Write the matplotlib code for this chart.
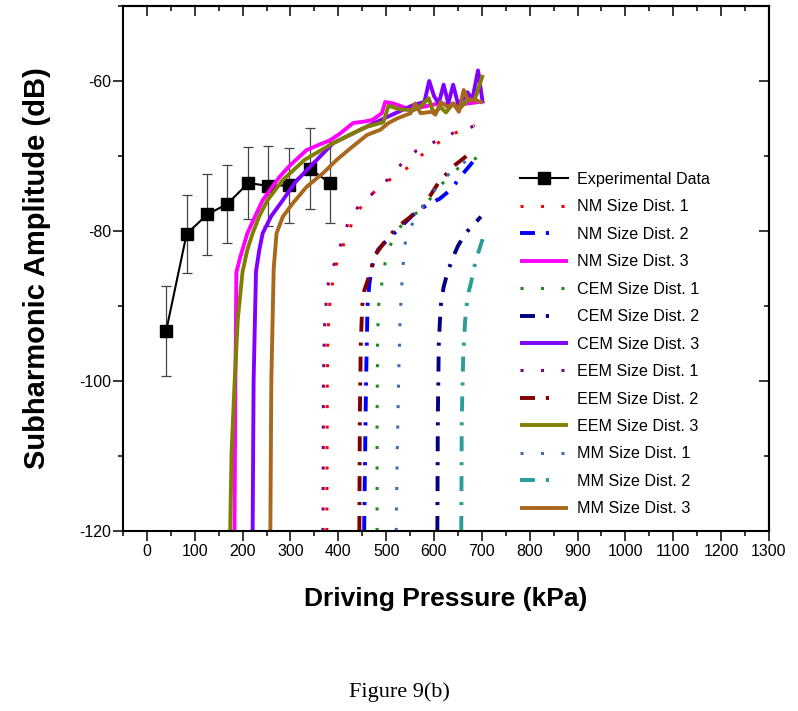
import matplotlib
matplotlib.use('Agg')
import matplotlib.pyplot as plt
from matplotlib.lines import Line2D
from matplotlib.ticker import MultipleLocator
from matplotlib import font_manager

# Fontes: Arial estreita no original
nomes = {f.name for f in font_manager.fontManager.ttflist}
NARROW = 'Liberation Sans Narrow' in nomes
plt.rcParams['font.family'] = ['Liberation Sans Narrow', 'Liberation Sans', 'DejaVu Sans'] if NARROW else ['Liberation Sans', 'DejaVu Sans']
plt.rcParams['axes.unicode_minus'] = False
FS_TICK = 13.8 if NARROW else 11.4
FS_LEG = 14 if NARROW else 11.6
FS_XLAB = 22 if NARROW else 19
LEG_SP = 0.45 if NARROW else 0.773

# ---- dados experimentais
exp_p = [40, 83, 126, 168, 212, 254, 298, 340, 383]
exp_db = [-93.4, -80.4, -77.8, -76.4, -73.6, -74.0, -73.9, -71.7, -73.6]
exp_err = [6.0, 5.2, 5.4, 5.2, 4.8, 5.3, 5.0, 5.4, 5.4]

# ---- simulações (kPa, dB)
nm1_p = [376, 377, 378, 381, 383, 390, 400, 418, 432, 460, 502, 544, 581, 623, 665, 685]
nm1_db = [-120, -100, -94, -91, -88.8, -86.1, -83.4, -80.8, -78.3, -75.6, -73.4, -71.6, -69.5, -67.6, -66.3, -65.9]

nm2_p = [454, 456, 458, 461, 465, 473, 483, 502, 530, 557, 586, 612, 635, 660, 681]
nm2_db = [-120, -110, -100, -90, -87, -84, -82.5, -81.2, -79.5, -77.8, -76.5, -75.7, -74.5, -72.4, -70.8]

nm3_p = [183, 185, 187, 195, 210, 225, 242, 260, 277, 300, 334, 360, 383, 404, 431, 456, 471, 491,
         498, 515, 550, 580, 610, 640, 670, 695]
nm3_db = [-120, -100, -85.5, -83.5, -80.3, -78.2, -75.9, -74.3, -72.8, -71.2, -69.2, -68.5, -67.9, -67.0,
          -65.6, -65.4, -65.2, -64.3, -62.8, -63.0, -63.8, -63.4, -63.0, -63.2, -63.0, -62.8]

cem1_p = [481, 481, 482, 484, 491, 498, 512, 536, 577, 612, 651, 693]
cem1_db = [-120, -105, -95, -90, -87, -84.2, -81.3, -78.8, -77.0, -74.0, -71.6, -70.1]

cem2_p = [607, 608, 610, 614, 620, 628, 639, 650, 666, 698]
cem2_db = [-120, -105, -95, -90, -87.5, -85.6, -83.6, -82.0, -80.3, -78.1]

cem3_p = [221, 223, 228, 235, 242, 260, 284, 310, 340, 389, 446, 502, 557, 580, 590, 600, 610, 620,
          630, 640, 650, 660, 670, 680, 692, 702]
cem3_db = [-120, -100, -85.4, -82.5, -80.3, -78.0, -75.9, -73.5, -71.5, -68.3, -66.5, -64.8, -63.2, -62.8,
           -60.0, -62.0, -63.0, -60.5, -63.0, -60.5, -63.0, -62.5, -61.5, -62.5, -58.6, -63.0]

eem1_p = [368, 369, 371, 375, 380, 393, 421, 447, 489, 523, 563, 605, 645, 690]
eem1_db = [-120, -100, -93, -89.2, -86.5, -84.1, -78.8, -76.2, -74.2, -71.6, -69.3, -68.0, -66.8, -65.9]

eem2_p = [444, 445, 447, 450, 454, 462, 477, 502, 523, 547, 582, 593, 610, 642, 668]
eem2_db = [-120, -105, -95, -90, -88, -86.5, -83.2, -81.0, -79.5, -78.3, -76.5, -75.2, -73.5, -71.3, -70.0]

eem3_p = [174, 177, 183, 190, 200, 210, 221, 235, 252, 284, 330, 389, 430, 460, 494, 505, 530, 557,
          570, 589, 599, 614, 625, 640, 652, 671, 685, 702]
eem3_db = [-120, -109.5, -100.6, -91.7, -85.4, -82.5, -80.3, -78.0, -75.9, -73.2, -70.5, -68.3, -67.0,
           -66.1, -65.5, -63.3, -63.8, -63.9, -63.5, -62.3, -64.3, -63.5, -64.2, -63.0, -63.8, -62.5,
           -62.5, -59.2]

mm1_p = [521, 523, 526, 529, 532, 535, 537, 542, 565, 593, 626, 670]
mm1_db = [-120, -110, -100, -92, -88, -85, -83.2, -80.5, -77.9, -75.2, -72.7, -70.5]

mm2_p = [657, 658, 661, 665, 670, 677, 684, 691, 702]
mm2_db = [-120, -105, -97, -92, -88.7, -87, -84.8, -83.2, -81]

mm3_p = [258, 260, 265, 271, 284, 305, 334, 368, 397, 425, 460, 488, 505, 523, 551, 561, 572, 597,
         603, 614, 629, 640, 652, 662, 671, 685, 702]
mm3_db = [-120, -100, -85, -80.3, -78.1, -76.3, -74.1, -72.3, -70.5, -69.0, -67.2, -66.5, -65.6, -65.0,
          -64.3, -63.0, -64.3, -64.1, -64.5, -62.8, -63.5, -63.0, -64.1, -61.2, -62.5, -62.5, -62.9]

x_ticks = [0, 100, 200, 300, 400, 500, 600, 700, 800, 900, 1000, 1100, 1200, 1300]
y_ticks = [-120, -100, -80, -60]

# rotulo, x, y, cor, tipo
series = [
    ('NM Size Dist. 1', nm1_p, nm1_db, '#FF0000', 'dot'),
    ('NM Size Dist. 2', nm2_p, nm2_db, '#0000FF', 'dashdot'),
    ('NM Size Dist. 3', nm3_p, nm3_db, '#FF00FF', 'solid'),
    ('CEM Size Dist. 1', cem1_p, cem1_db, '#1E8A1E', 'dot'),
    ('CEM Size Dist. 2', cem2_p, cem2_db, '#000080', 'dashdot'),
    ('CEM Size Dist. 3', cem3_p, cem3_db, '#8000FF', 'solid'),
    ('EEM Size Dist. 1', eem1_p, eem1_db, '#800080', 'dot'),
    ('EEM Size Dist. 2', eem2_p, eem2_db, '#800000', 'dashdot'),
    ('EEM Size Dist. 3', eem3_p, eem3_db, '#808000', 'solid'),
    ('MM Size Dist. 1', mm1_p, mm1_db, '#3F6DAE', 'dot'),
    ('MM Size Dist. 2', mm2_p, mm2_db, '#2A9D98', 'dashdot'),
    ('MM Size Dist. 3', mm3_p, mm3_db, '#A8681E', 'solid'),
]


def estilo(tipo, legenda=False):
    if tipo == 'dot':
        return dict(lw=2.2, dashes=(1, 5.7), dash_capstyle='butt')
    if tipo == 'dashdot':
        if legenda:
            return dict(lw=2.8, dashes=(3.85, 2.8, 0.8, 12), dash_capstyle='butt')
        return dict(lw=2.8, dashes=(3.85, 2.8, 0.8, 2.8), dash_capstyle='butt')
    return dict(lw=2.8, solid_capstyle='butt')


fig = plt.figure(figsize=(7.98, 7.11), dpi=100)
ax = fig.add_axes([0.1541, 0.2532, 0.8095, 0.7384])

# Experimental
ax.errorbar(exp_p, exp_db, yerr=exp_err, fmt='none', ecolor='#444444',
            elinewidth=0.9, capsize=3.6, capthick=0.9)
ax.plot(exp_p, exp_db, color='black', lw=1.5, marker='s', ms=8)

handles = [Line2D([], [], color='black', lw=1.5, marker='s', ms=8)]
labels = ['Experimental Data']
for rot, xs, ys, cor, tipo in series:
    ax.plot(xs, ys, color=cor, **estilo(tipo))
    handles.append(Line2D([], [], color=cor, **estilo(tipo, legenda=True)))
    labels.append(rot)

ax.set_xlim(-50, 1300)
ax.set_ylim(-120, -50)
ax.set_xticks(x_ticks)
ax.set_yticks(y_ticks)
ax.xaxis.set_minor_locator(MultipleLocator(50))
ax.yaxis.set_minor_locator(MultipleLocator(10))
ax.tick_params(which='major', direction='out', length=7.2, width=1.1, top=False, right=False,
               labelsize=FS_TICK)
ax.tick_params(which='minor', direction='out', length=3.6, width=1.1, top=False, right=False)
ax.tick_params(axis='y', pad=1.5)
ax.tick_params(axis='x', pad=2.5)
for s in ax.spines.values():
    s.set_linewidth(1.5)

# eixos espelhados com ticks para dentro
secx = ax.secondary_xaxis('top')
secx.set_xticks(x_ticks)
secx.xaxis.set_minor_locator(MultipleLocator(50))
secx.tick_params(which='major', direction='in', length=7.2, width=1.1, labeltop=False)
secx.tick_params(which='minor', direction='in', length=3.6, width=1.1)
secx.spines['top'].set_linewidth(1.5)
secy = ax.secondary_yaxis('right')
secy.set_yticks(y_ticks)
secy.yaxis.set_minor_locator(MultipleLocator(10))
secy.tick_params(which='major', direction='in', length=7.2, width=1.1, labelright=False)
secy.tick_params(which='minor', direction='in', length=3.6, width=1.1)
secy.spines['right'].set_linewidth(1.5)

ax.set_xlabel('Driving Pressure (kPa)', fontsize=FS_XLAB, fontweight='bold', labelpad=20)
ax.set_ylabel('Subharmonic Amplitude (dB)', fontsize=21, fontweight='bold', labelpad=20,
              family=['Liberation Sans', 'DejaVu Sans'])

ax.legend(handles, labels, loc='upper left', bbox_to_anchor=(0.6146, 0.684), frameon=False,
          fontsize=FS_LEG, handlelength=3.0, handletextpad=0.55, labelspacing=LEG_SP,
          borderpad=0, borderaxespad=0)

fig.text(0.5, 0.0267, 'Figure 9(b)', ha='center', va='center', fontsize=16,
         family=['Liberation Serif', 'DejaVu Serif'])

fig.savefig('out.png', dpi=100)
